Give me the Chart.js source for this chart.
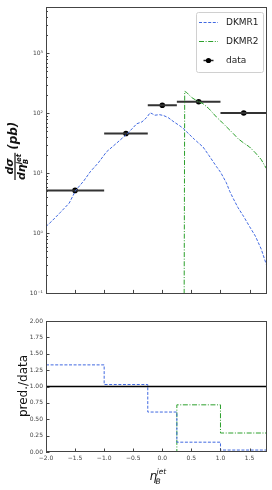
<!DOCTYPE html>
<html><head><meta charset="utf-8">
<script src="https://cdn.jsdelivr.net/npm/chart.js@4"></script>
<style>
html,body{margin:0;padding:0;background:#fff;width:272px;height:490px;overflow:hidden}
.box{position:absolute;left:0;width:272px}
</style></head><body>
<div class="box" style="top:0;height:300px"><canvas id="c1" width="272" height="300"></canvas></div>
<div class="box" style="top:300px;height:190px"><canvas id="c2" width="272" height="190"></canvas></div>
<script>
// ---------- data ----------
const binEdges   = [-2.0, -1.0, -0.25, 0.25, 1.0, 1.8];
const binCenters = [-1.5, -0.625, 0.0, 0.625, 1.4];
const dataValues = [5.2, 46, 136, 156, 101];

const dkmr1X = [-2.0,-1.9,-1.76,-1.6,-1.49,-1.35,-1.24,-1.1,-0.96,-0.8,-0.6,-0.5,-0.44,-0.35,-0.27,-0.21,-0.17,-0.13,-0.05,0.02,0.1,0.2,0.3,0.36,0.45,0.55,0.7,0.8,0.93,1.0,1.1,1.16,1.22,1.3,1.4,1.5,1.6,1.7,1.79];
const dkmr1Y = [1.3,1.6,2.2,3.2,5.2,7.5,10.6,15,22.8,31,46,58,67,72,85,102,98,93,95,92,85,72,62,56,46,37,27.5,20,13,10.5,7,5,3.8,2.7,1.9,1.3,0.9,0.55,0.3];

const dkmr2X = [0.37,0.385,0.42,0.5,0.6,0.7,0.8,0.93,1.0,1.1,1.22,1.3,1.4,1.5,1.6,1.7,1.79];
const dkmr2Y = [0.001,232,222,185,160,145,120,87,75,60,46,38,32,27.5,22,17,12];

const ratioDKMR1 = [1.33, 1.03, 0.61, 0.15, 0.03];
const ratioDKMR2 = [0, 0, 0, 0.72, 0.29];
const ratioData  = [1, 1];

const xTicks = [-2.0,-1.5,-1.0,-0.5,0.0,0.5,1.0,1.5];
const ratioTicks = [0,0.25,0.5,0.75,1.0,1.25,1.5,1.75,2.0];
const logExponents = [-1,0,1,2,3];
const seriesNames = ['DKMR1','DKMR2','data'];

// ---------- styles ----------
const X_MIN=-2.0, X_MAX=1.8, Y_MIN=0.1, Y_MAX=6000;
const C1='#4169e1', C2='#2ca02c', CK='#000';
const DASH1=[3,1.6], DASH2=[5,1.6,1,1.6];
Chart.defaults.font.family='"DejaVu Sans"';
Chart.defaults.color='#444';

const SUP={'-':'⁻','0':'⁰','1':'¹','2':'²','3':'³'};
const supStr=s=>String(s).split('').map(c=>SUP[c]||c).join('');
const fmtMinus=s=>s.replace('-', '−');

// ---------- plugins ----------
function frameAndTicks(chart){
  const {ctx, chartArea:a}=chart;
  ctx.save();
  ctx.strokeStyle='#444'; ctx.lineWidth=1;
  ctx.strokeRect(Math.round(a.left)+0.5, Math.round(a.top)+0.5, Math.round(a.right-a.left)-1, Math.round(a.bottom-a.top)-1);
  const xs=chart.scales.x, ys=chart.scales.y;
  ctx.beginPath();
  xs.ticks.forEach(t=>{const p=Math.round(xs.getPixelForValue(t.value))+0.5; ctx.moveTo(p,a.bottom); ctx.lineTo(p,a.bottom-3.5);});
  ys.ticks.forEach(t=>{const p=Math.round(ys.getPixelForValue(t.value))+0.5; const L=t.major?3.5:2; ctx.moveTo(a.left,p); ctx.lineTo(a.left+L,p);});
  ctx.stroke();
  ctx.restore();
}
const framePlugin={id:'frame',afterDraw:frameAndTicks};

const legendPlugin={id:'mylegend',afterDraw(chart){
  const ctx=chart.ctx; ctx.save();
  const x=196,y=12,w=67,h=60;
  ctx.beginPath(); ctx.roundRect(x+0.5,y+0.5,w,h,2);
  ctx.fillStyle='rgba(255,255,255,0.85)'; ctx.fill();
  ctx.strokeStyle='#d0d0d0'; ctx.lineWidth=1; ctx.stroke();
  const rows=[22,41,60];
  ctx.lineWidth=1;
  ctx.strokeStyle=C1; ctx.setLineDash(DASH1);
  ctx.beginPath(); ctx.moveTo(199,rows[0]+0.5); ctx.lineTo(218,rows[0]+0.5); ctx.stroke();
  ctx.strokeStyle=C2; ctx.setLineDash(DASH2);
  ctx.beginPath(); ctx.moveTo(199,rows[1]+0.5); ctx.lineTo(218,rows[1]+0.5); ctx.stroke();
  ctx.setLineDash([]); ctx.strokeStyle='#222'; ctx.lineWidth=1.5;
  ctx.beginPath(); ctx.moveTo(203.5,rows[2]+0.5); ctx.lineTo(213.5,rows[2]+0.5); ctx.stroke();
  ctx.fillStyle=CK; ctx.beginPath(); ctx.arc(208.5,rows[2]+0.5,2.6,0,Math.PI*2); ctx.fill();
  ctx.fillStyle='#222'; ctx.font='9px "DejaVu Sans"'; ctx.textBaseline='middle'; ctx.textAlign='left';
  seriesNames.forEach((n,i)=>ctx.fillText(n,226,rows[i]+0.5));
  ctx.restore();
}};

const yTitleTop={id:'ytitleTop',afterDraw(chart){
  const ctx=chart.ctx; ctx.save();
  ctx.translate(15,180); ctx.rotate(-Math.PI/2);
  ctx.fillStyle='#111';
  ctx.textBaseline='alphabetic'; ctx.textAlign='left';
  ctx.font='italic bold 11px "DejaVu Sans"';
  ctx.fillText('dη',0,10);
  const wd=ctx.measureText('dη').width;
  ctx.font='italic bold 7px "DejaVu Sans"';
  ctx.fillText('jet',wd,5.5);
  ctx.fillText('B',wd,12.5);
  const wj=ctx.measureText('jet').width;
  const fw=wd+wj+1;
  ctx.fillRect(0,-0.6,fw,1.2);
  ctx.font='italic bold 11px "DejaVu Sans"';
  ctx.textAlign='center';
  ctx.fillText('dσ',fw/2,-2.5);
  ctx.textAlign='left'; ctx.textBaseline='middle';
  ctx.font='italic bold 12px "DejaVu Sans"';
  ctx.fillText('(pb)',fw+3,-1.5);
  ctx.restore();
}};

const titlesBottom={id:'titlesBottom',afterDraw(chart){
  const ctx=chart.ctx; ctx.save();
  ctx.fillStyle='#111';
  ctx.translate(0,0);
  ctx.save();
  ctx.translate(24,86); ctx.rotate(-Math.PI/2);
  ctx.font='12px "DejaVu Sans"'; ctx.textAlign='center'; ctx.textBaseline='middle';
  ctx.fillText('pred./data',0,0);
  ctx.restore();
  ctx.textAlign='left'; ctx.textBaseline='alphabetic';
  ctx.font='italic 12px "DejaVu Sans"';
  ctx.fillText('η',149.5,180);
  const w=ctx.measureText('η').width;
  ctx.font='italic 7.5px "DejaVu Sans"';
  ctx.fillText('jet',149.5+w-0.5,173.5);
  ctx.fillText('B',149.5+w-1.5,183.5);
  ctx.restore();
}};

// ---------- top chart ----------
const pts=(xs,ys)=>xs.map((x,i)=>({x,y:ys[i]}));
const errSegs=[];
binCenters.forEach((c,i)=>{errSegs.push({x:binEdges[i],y:dataValues[i]},{x:binEdges[i+1],y:dataValues[i]},{x:binEdges[i+1],y:null});});

new Chart(document.getElementById('c1'),{
  type:'line',
  data:{datasets:[
    {label:seriesNames[0],data:pts(dkmr1X,dkmr1Y),borderColor:C1,borderWidth:1,borderDash:DASH1,pointRadius:0,tension:0,fill:false},
    {label:seriesNames[1],data:pts(dkmr2X,dkmr2Y),borderColor:C2,borderWidth:1,borderDash:DASH2,pointRadius:0,tension:0,fill:false},
    {label:'err',data:errSegs,borderColor:'#333',borderWidth:2,pointRadius:0,spanGaps:false,fill:false},
    {label:seriesNames[2],data:pts(binCenters,dataValues),showLine:false,pointRadius:2.8,pointBackgroundColor:CK,pointBorderColor:CK,pointBorderWidth:0}
  ]},
  options:{
    responsive:false,animation:false,devicePixelRatio:1,
    layout:{padding:{top:6,right:5,left:0,bottom:0}},
    plugins:{legend:{display:false},tooltip:{enabled:false}},
    scales:{
      x:{type:'linear',min:X_MIN,max:X_MAX,grid:{display:false,drawTicks:false},border:{display:false},
         ticks:{display:false,autoSkip:false},
         afterBuildTicks:s=>{s.ticks=xTicks.map(v=>({value:v}));},
         afterFit:s=>{s.height=5;}},
      y:{type:'logarithmic',min:Y_MIN,max:Y_MAX,grid:{display:false,drawTicks:false},border:{display:false},
         ticks:{autoSkip:false,padding:3,font:{size:6},color:'#444',
           callback:(v)=>{const e=Math.log10(v);return Math.abs(e-Math.round(e))<1e-9?'10'+supStr(Math.round(e)):'';}},
         afterBuildTicks:s=>{const t=[];logExponents.forEach(e=>{for(let m=1;m<=9;m++){const v=m*Math.pow(10,e);if(v<=Y_MAX)t.push({value:v,major:m===1});}});s.ticks=t;},
         afterFit:s=>{s.width=46;}}
    }
  },
  plugins:[framePlugin,legendPlugin,yTitleTop]
});

// ---------- ratio chart ----------
const stepPts=vals=>binEdges.map((x,i)=>({x,y:vals[Math.min(i,vals.length-1)]}));
new Chart(document.getElementById('c2'),{
  type:'line',
  data:{datasets:[
    {label:'data',data:[{x:X_MIN,y:ratioData[0]},{x:X_MAX,y:ratioData[1]}],borderColor:CK,borderWidth:1.5,pointRadius:0},
    {label:seriesNames[0],data:stepPts(ratioDKMR1),stepped:'before',borderColor:C1,borderWidth:1,borderDash:DASH1,pointRadius:0},
    {label:seriesNames[1],data:stepPts(ratioDKMR2),stepped:'before',borderColor:C2,borderWidth:1,borderDash:DASH2,pointRadius:0}
  ]},
  options:{
    responsive:false,animation:false,devicePixelRatio:1,
    layout:{padding:{top:21,right:5,left:0,bottom:0}},
    plugins:{legend:{display:false},tooltip:{enabled:false}},
    scales:{
      x:{type:'linear',min:X_MIN,max:X_MAX,grid:{display:false,drawTicks:false},border:{display:false},
         ticks:{autoSkip:false,padding:3,font:{size:6},color:'#444',maxRotation:0,callback:v=>fmtMinus(v.toFixed(1))},
         afterBuildTicks:s=>{s.ticks=xTicks.map(v=>({value:v}));},
         afterFit:s=>{s.height=38;}},
      y:{type:'linear',min:0,max:2,grid:{display:false,drawTicks:false},border:{display:false},
         ticks:{autoSkip:false,padding:3,font:{size:6},color:'#444',callback:v=>v.toFixed(2)},
         afterBuildTicks:s=>{s.ticks=ratioTicks.map(v=>({value:v,major:true}));},
         afterFit:s=>{s.width=46;}}
    }
  },
  plugins:[framePlugin,titlesBottom]
});
</script>
</body></html>
